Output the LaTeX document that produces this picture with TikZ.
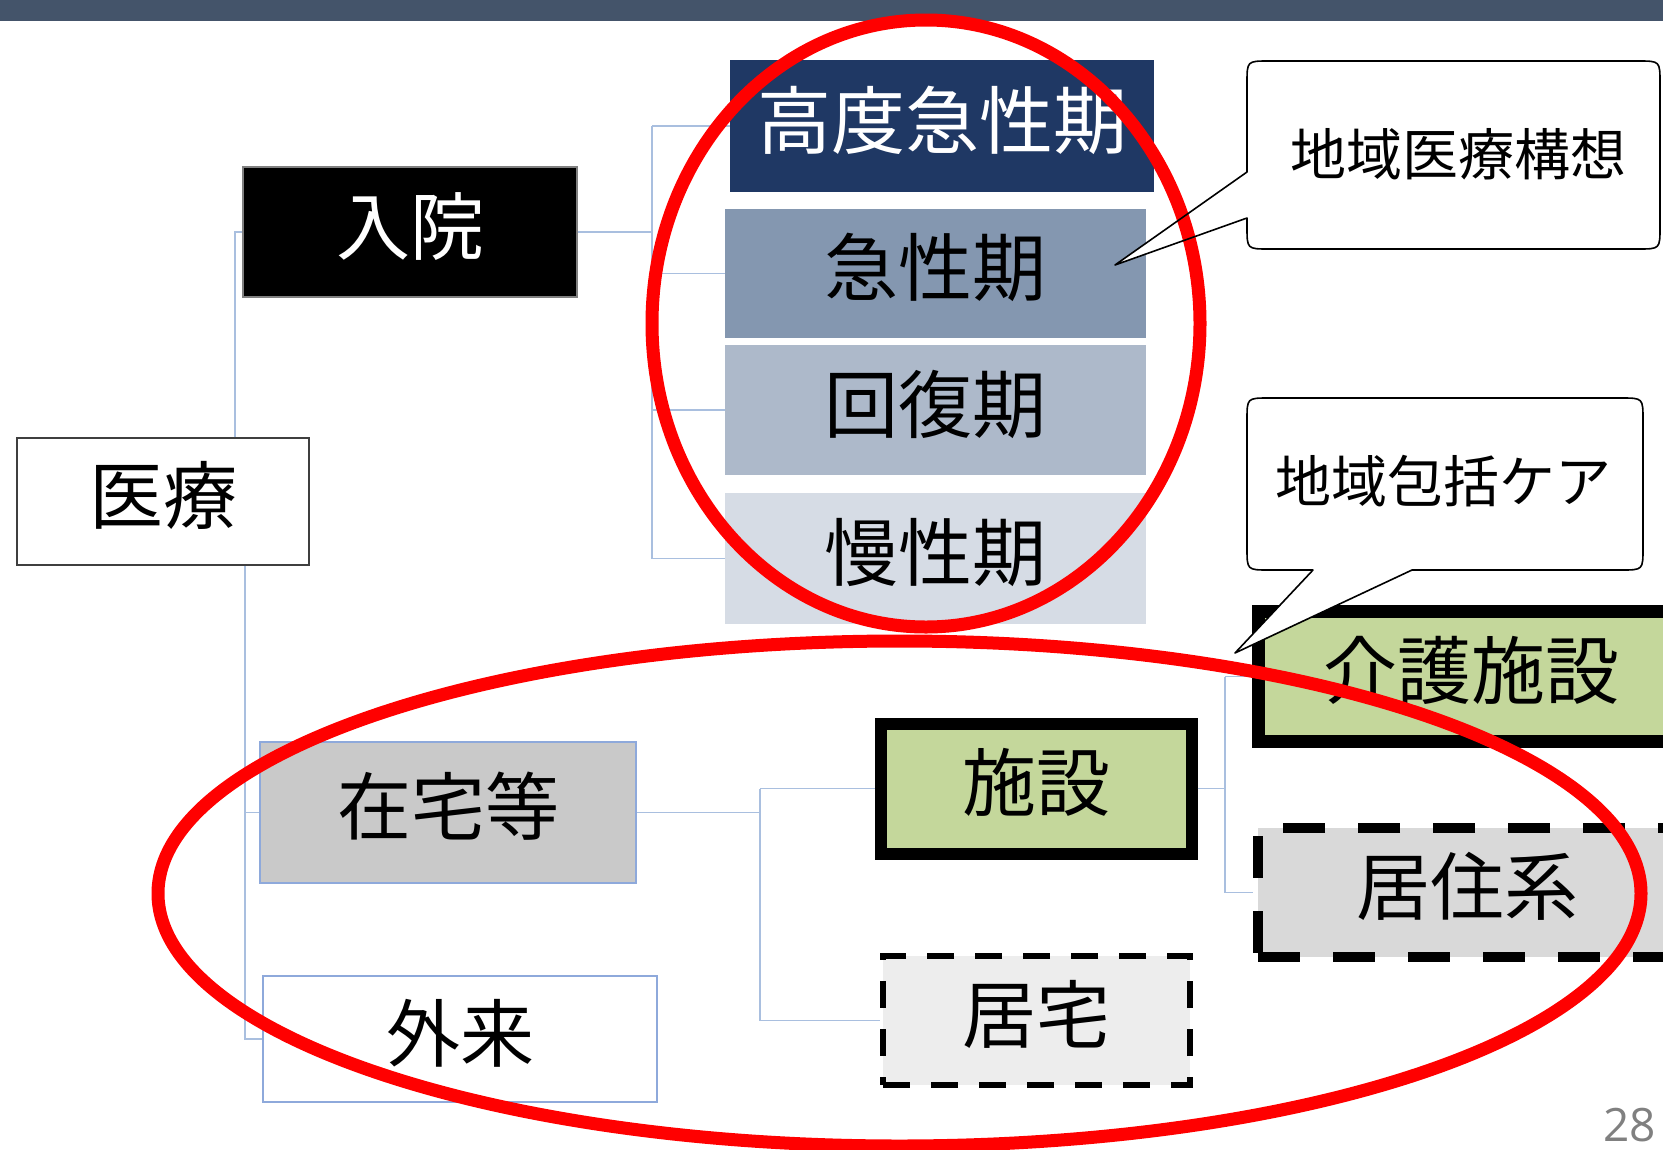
\documentclass[tikz,border=0pt]{standalone}
\usepackage{fontspec}
\newfontfamily\jp{Noto Sans CJK JP}
\newfontfamily\numfont{Open Sans}
\definecolor{barc}{HTML}{44546A}
\definecolor{navy}{HTML}{1F3864}
\definecolor{acute}{HTML}{8497B0}
\definecolor{recov}{HTML}{ADB9CA}
\definecolor{chron}{HTML}{D6DCE5}
\definecolor{homeg}{HTML}{C9C9C9}
\definecolor{lblue}{HTML}{8EA9DB}
\definecolor{connc}{HTML}{A9BFDF}
\definecolor{greenf}{HTML}{C4D79B}
\definecolor{lgray}{HTML}{EDEDED}
\definecolor{mgray}{HTML}{D9D9D9}
\definecolor{ringred}{HTML}{FF0000}
\definecolor{pgnum}{HTML}{808080}
\tikzset{
  box/.style={rectangle, inner sep=0pt, align=center,
    text height=56pt, text depth=12pt,
    font={\jp\fontsize{74}{80}\selectfont}},
  conn/.style={draw=connc, line width=1.6pt},
  ring/.style={draw=ringred, line width=13pt},
  callfill/.style={fill=white},
  callline/.style={draw=black, line width=1.6pt, line join=round},
  calltext/.style={inner sep=0pt, font={\jp\fontsize{56}{60}\selectfont}},
}
\newcommand\calloutpathA{(1247,172) -- (1115,265) -- (1247,218) -- (1247,227) .. controls (1247,249) .. (1269,249) -- (1638,249) .. controls (1660,249) .. (1660,227) -- (1660,83) .. controls (1660,61) .. (1638,61) -- (1269,61) .. controls (1247,61) .. (1247,83) -- cycle}
\newcommand\calloutpathB{(1247,420) -- (1247,548) .. controls (1247,570) .. (1269,570) -- (1313,570) -- (1235,653) -- (1412,570) -- (1621,570) .. controls (1643,570) .. (1643,548) -- (1643,420) .. controls (1643,398) .. (1621,398) -- (1269,398) .. controls (1247,398) .. (1247,420) -- cycle}
\begin{document}
\begin{tikzpicture}[x=1pt,y=-1pt]
\useasboundingbox (0,0) rectangle (1663,1149);
\clip (0,0) rectangle (1663,1149);
\fill[white] (0,0) rectangle (1663,1149);
\fill[barc] (0,0) rectangle (1663,21);

% nodes
\node[box, draw={rgb,255:red,63;green,63;blue,63}, line width=2pt, fill=white,
  minimum width=292pt, minimum height=127pt] (iryo) at (163,501.5) {医療};
\node[box, fill=black, draw=gray, line width=1.5pt, text=white,
  minimum width=334pt, minimum height=130pt] (nyuin) at (410,232) {入院};
\node[box, fill=navy, text=white, minimum width=424pt, minimum height=132pt]
  (koudo) at (942,126) {高度急性期};
\node[box, fill=acute, minimum width=421pt, minimum height=129pt]
  (kyusei) at (935.5,273.5) {急性期};
\node[box, fill=recov, minimum width=421pt, minimum height=130pt]
  (kaifuku) at (935.5,410) {回復期};
\node[box, fill=chron, minimum width=421pt, minimum height=131pt]
  (mansei) at (935.5,558.5) {慢性期};
\node[box, fill=homeg, draw=lblue, line width=2pt, minimum width=376pt, minimum height=141pt]
  (zaitaku) at (448,812.5) {在宅等};
\node[box, fill=white, draw=lblue, line width=2pt, minimum width=394pt, minimum height=126pt]
  (gairai) at (460,1039) {外来};
\node[box, fill=greenf, draw=black, line width=12pt, minimum width=311pt, minimum height=130pt]
  (shisetsu) at (1036,788.5) {施設};
\node[box, fill=lgray, draw=black, line width=6pt, dash pattern=on 27pt off 21pt,
  minimum width=307pt, minimum height=129pt]
  (kyotaku) at (1036.5,1020.5) {居宅};
\node[box, fill=greenf, draw=black, line width=13pt, minimum width=425pt, minimum height=130pt]
  (kaigo) at (1471,676.5) {介護施設};
\node[box, fill=mgray, draw=black, line width=10pt, dash pattern=on 42pt off 33pt,
  minimum width=419pt, minimum height=129pt]
  (kyoju) at (1467.5,892.5) {居住系};

% junction coordinates
\coordinate (j1) at (235,232);
\coordinate (j2) at (245,812.5);
\coordinate (j3) at (245,1039);
\coordinate (j4) at (652,232);
\coordinate (j5) at (760,812.5);
\coordinate (j6) at (1225,788.5);

% connectors
\draw[conn] (iryo.north -| j1) -- (j1) -- (nyuin.west);
\draw[conn] (iryo.south -| j2) -- (j3) -- (gairai.west);
\draw[conn] (j2) -- (zaitaku.west);
\draw[conn] (nyuin.east) -- (j4);
\draw[conn] (koudo.west -| j4) -- (mansei.west -| j4);
\draw[conn] (koudo.west -| j4) -- (koudo.west);
\draw[conn] (kyusei.west -| j4) -- (kyusei.west);
\draw[conn] (kaifuku.west -| j4) -- (kaifuku.west);
\draw[conn] (mansei.west -| j4) -- (mansei.west);
\draw[conn] (zaitaku.east) -- (j5);
\draw[conn] (shisetsu.west -| j5) -- (kyotaku.west -| j5);
\draw[conn] (shisetsu.west -| j5) -- (shisetsu.west);
\draw[conn] (kyotaku.west -| j5) -- (kyotaku.west);
\draw[conn] (shisetsu.east) -- (j6);
\draw[conn] (kaigo.west -| j6) -- (kyoju.west -| j6);
\draw[conn] (kaigo.west -| j6) -- (kaigo.west);
\draw[conn] (kyoju.west -| j6) -- (kyoju.west);

% callouts: fill
\fill[callfill] \calloutpathA;
\fill[callfill] \calloutpathB;
\node[calltext] (kousou) at (1458,154) {地域医療構想};
\node[calltext] (houkatsu) at (1443.5,481) {地域包括ケア};

% red rings
\draw[ring] (926,323.5) ellipse (274 and 303.5);
\draw[ring] (899.5,893.5) ellipse (741.5 and 252.5);

% callout outlines
\draw[callline] \calloutpathA;
\draw[callline] \calloutpathB;

% page number
\node[anchor=base west, inner sep=0pt, text=pgnum, font={\numfont\fontsize{46}{50}\selectfont}]
  (pagenum) at (1603,1141) {28};
\end{tikzpicture}
\end{document}
